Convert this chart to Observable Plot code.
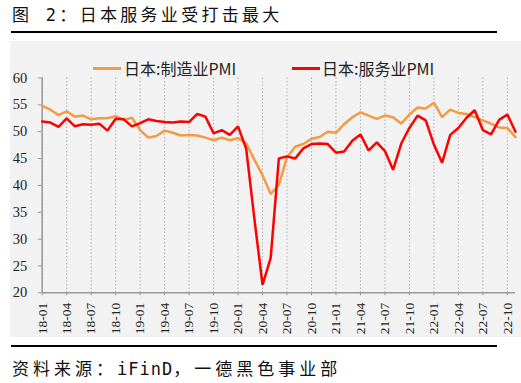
<!DOCTYPE html>
<html><head><meta charset="utf-8">
<script src="https://cdn.jsdelivr.net/npm/d3@7"></script>
<script src="https://cdn.jsdelivr.net/npm/@observablehq/plot@0.6"></script>
<style>
html,body{margin:0;padding:0;background:#fff;}
body{width:521px;height:383px;position:relative;overflow:hidden;font-family:"Noto Sans CJK SC",sans-serif;}
#title{position:absolute;left:12px;top:4px;font-size:17px;letter-spacing:3.3px;font-family:"DejaVu Sans Mono","Noto Sans CJK SC",monospace;color:#111;line-height:22px;white-space:nowrap;}
.rule{position:absolute;left:11px;width:486px;height:2px;background:#000;}
#panel{position:absolute;left:10px;top:41px;width:511px;height:296px;background:#f2f2f2;}
#panel svg{position:absolute;left:0;top:0;}
.lg{position:absolute;font-size:16px;color:#222;line-height:20px;white-space:nowrap;font-family:"Noto Sans CJK SC",sans-serif;}
.sw{position:absolute;height:2.5px;}
#caption{position:absolute;left:12px;top:357px;font-size:17px;font-family:"DejaVu Sans Mono","Noto Sans CJK SC",monospace;color:#111;line-height:24px;white-space:nowrap;}
#caption .c{letter-spacing:4px;}
#caption .l{letter-spacing:1px;}
</style>
</head><body>
<div id="title">图 2：日本服务业受打击最大</div>
<div class="rule" style="top:31px"></div>
<div id="panel">
  <div class="sw" style="left:83px;top:26px;width:28px;background:#F39A44"></div>
  <div class="lg" style="left:114px;top:17px">日本:制造业PMI</div>
  <div class="sw" style="left:282px;top:26px;width:28px;background:#FF0000"></div>
  <div class="lg" style="left:312px;top:17px">日本:服务业PMI</div>
</div>
<div class="rule" style="top:345px"></div>
<div id="caption"><span class="c">资料来源：</span><span class="l">iFinD</span><span class="c">，一德黑色事业部</span></div>
<script>
const months = [
 "18-01","18-02","18-03","18-04","18-05","18-06","18-07","18-08","18-09","18-10","18-11","18-12",
 "19-01","19-02","19-03","19-04","19-05","19-06","19-07","19-08","19-09","19-10","19-11","19-12",
 "20-01","20-02","20-03","20-04","20-05","20-06","20-07","20-08","20-09","20-10","20-11","20-12",
 "21-01","21-02","21-03","21-04","21-05","21-06","21-07","21-08","21-09","21-10","21-11","21-12",
 "22-01","22-02","22-03","22-04","22-05","22-06","22-07","22-08","22-09","22-10","22-11"];
const mfgPMI = [
 54.8,54.1,53.1,53.8,52.8,53.0,52.3,52.5,52.5,52.9,52.2,52.6,
 50.3,48.9,49.2,50.2,49.8,49.3,49.4,49.3,48.9,48.4,48.9,48.4,
 48.8,47.8,44.8,41.9,38.4,40.1,45.2,47.2,47.7,48.7,49.0,50.0,
 49.8,51.4,52.7,53.6,53.0,52.4,53.0,52.7,51.5,53.2,54.5,54.3,
 55.4,52.7,54.1,53.5,53.3,52.7,52.1,51.5,50.8,50.7,49.0];
const svcPMI = [
 51.9,51.7,50.9,52.5,51.0,51.4,51.3,51.5,50.2,52.4,52.3,51.0,
 51.6,52.3,52.0,51.8,51.7,51.9,51.8,53.3,52.8,49.7,50.3,49.4,
 51.0,46.8,33.8,21.5,26.5,45.0,45.4,45.0,46.9,47.7,47.8,47.7,
 46.1,46.3,48.3,49.5,46.5,48.0,46.4,42.9,47.8,50.7,53.0,52.1,
 47.6,44.2,49.4,50.7,52.6,54.0,50.3,49.5,52.2,53.2,50.0];
const xTickLabels = ["18-01","18-04","18-07","18-10","19-01","19-04","19-07","19-10","20-01","20-04",
 "20-07","20-10","21-01","21-04","21-07","21-10","22-01","22-04","22-07","22-10"];
const yTicks = [20,25,30,35,40,45,50,55,60];

const data = months.flatMap((m,i)=>[
  {i, m, v: mfgPMI[i], s:"日本:制造业PMI"},
  {i, m, v: svcPMI[i], s:"日本:服务业PMI"}
]);
const xTicks = xTickLabels.map(l => months.indexOf(l));
const serif = "'Liberation Serif', 'DejaVu Serif', serif";

const chart = Plot.plot({
  width: 511, height: 296,
  marginLeft: 31.7, marginRight: 6, marginTop: 36.5, marginBottom: 44.7,
  style: {background: "transparent", fontFamily: serif, color: "#222"},
  x: {type: "linear", domain: [0, months.length - 1]},
  y: {domain: [20, 60]},
  marks: [
    Plot.gridX(xTicks, {stroke: "#b0b0b0", strokeOpacity: 1, strokeDasharray: "1.5,2", strokeWidth: 1}),
    Plot.ruleY([20], {x1: 0, x2: months.length - 1, stroke: "#999", strokeWidth: 1.5}),
    Plot.ruleX([0], {y1: 20, y2: 60, stroke: "#999", strokeWidth: 1.5}),
    Plot.axisY(yTicks, {tickSize: 4, tickPadding: 11, fontSize: 14.5, fontFamily: serif, stroke: "#999", label: null, fill: "#222"}),
    Plot.axisX(xTicks, {tickSize: 3, tickPadding: 7, tickRotate: -90, fontSize: 13.5, fontFamily: serif, stroke: "#999", label: null, fill: "#222",
      tickFormat: d => months[d]}),
    Plot.line(data, {x: "i", y: "v", z: "s", stroke: "s", strokeWidth: 2.5, strokeLinejoin: "miter"})
  ],
  color: {domain: ["日本:制造业PMI","日本:服务业PMI"], range: ["#F39A44","#FF0000"]}
});
document.getElementById("panel").appendChild(chart);
</script>
</body></html>
